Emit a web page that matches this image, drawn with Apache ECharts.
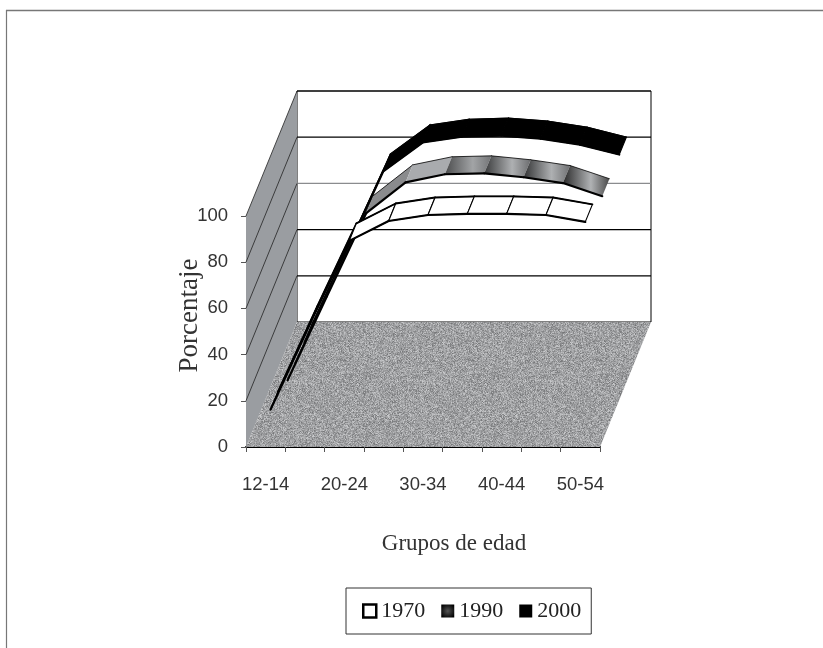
<!DOCTYPE html>
<html><head><meta charset="utf-8">
<style>html,body{margin:0;padding:0;background:#fff}#c{width:823px;height:648px}</style>
<script src="https://cdn.jsdelivr.net/npm/echarts@6/dist/echarts.min.js"></script>
</head><body><div id="c"></div>
<script>
const categories = ['12-14','15-19','20-24','25-29','30-34','35-39','40-44','45-49','50-54'];
const yTicks = [0,20,40,60,80,100];
const v1970 = [11,48,84,92.6,95.2,95.7,95.7,95.2,92.2];
const v1990 = [5.6,42,78,91.3,94.8,95.2,93.5,91,85.3];
const v2000 = [4,41,78,90.5,93,93.5,92.2,89.6,85.3];
const seriesNames = ['1970','1990','2000'];

const DX = 51, DY = -125, SLOTS = 3, F0 = 0.29, F1 = 0.71;
const WALL = '#9a9da1';

function shade(c1,c2,c3){return {type:'linear',x:0,y:0,x2:1,y2:0,colorStops:[{offset:0,color:c1},{offset:.6,color:c2},{offset:1,color:c3}]};}
const fill1990 = [ '#777','#777','#8a8b8d','#a9abae',
  shade('#4c4d4e','#a2a4a6','#737476'),shade('#3a3b3c','#aeb0b2','#6c6d6f'),
  shade('#333435','#aeb0b2','#707173'),shade('#2a2a2a','#b0b2b4','#4a4a4a')];

const pat = document.createElement('canvas'); pat.width = 128; pat.height = 128;
(function(){const g = pat.getContext('2d'); let s = 2463534242;
  const next = () => { s ^= s << 13; s >>>= 0; s ^= s >>> 17; s ^= s << 5; s >>>= 0; return s / 4294967296; };
  for (let j=0;j<128;j++) for (let i=0;i<128;i++){
    const n = (next()+next())/2, c = Math.round(112 + n*95);
    g.fillStyle = 'rgb('+c+','+(c+1)+','+(c+3)+')'; g.fillRect(i,j,1,1);
  }
})();

function ribbon(slot, fills, mode){
  return function(params, api){
    const k = api.value(0);
    if (k >= categories.length-1) return null;
    const a = api.coord([k, api.value(1)]), b = api.coord([k+1, api.value(2)]);
    const off = f => [DX*(slot+f)/SLOTS, DY*(slot+f)/SLOTS];
    const o0 = off(F0), o1 = off(F1);
    const p = [[a[0]+o0[0],a[1]+o0[1]],[b[0]+o0[0],b[1]+o0[1]],[b[0]+o1[0],b[1]+o1[1]],[a[0]+o1[0],a[1]+o1[1]]];
    const fill = fills[k];
    const ch = [{type:'polygon',shape:{points:p},style:{fill:fill,stroke:mode==='cells'||mode==='solid'?'#000':null,lineWidth:1.1}},
      {type:'line',shape:{x1:p[0][0],y1:p[0][1],x2:p[1][0],y2:p[1][1]},style:{stroke:'#000',lineWidth:2.2,lineCap:'round'}},
      {type:'line',shape:{x1:p[3][0],y1:p[3][1],x2:p[2][0],y2:p[2][1]},style:{stroke:'#000',lineWidth:mode==='cells'?1.8:0.8,lineCap:'round'}}];
    return {type:'group',children:ch};
  };
}
function rows(v){return v.map((x,i)=>[i,x,i<v.length-1?v[i+1]:x]);}

function scene(params, api){
  const half = api.size([1,0])[0]/2;
  const L = api.coord([0,0])[0]-half, R = api.coord([categories.length-1,0])[0]+half;
  const y = t => api.coord([0,t])[1];
  const ch = [];
  ch.push({type:'polygon',shape:{points:[[L+DX,y(0)+DY],[R+DX,y(0)+DY],[R+DX,y(100)+DY],[L+DX,y(100)+DY]]},style:{fill:'#fff',stroke:'#000',lineWidth:1}});
  ch.push({type:'polygon',shape:{points:[[L,y(0)],[L+DX,y(0)+DY],[L+DX,y(100)+DY],[L,y(100)]]},style:{fill:WALL,stroke:null}});
  ch.push({type:'polygon',shape:{points:[[L,y(0)],[R,y(0)],[R+DX,y(0)+DY],[L+DX,y(0)+DY]]},style:{fill:{image:pat,repeat:'repeat'},stroke:null}});
  yTicks.forEach(t=>{
    if (t===0) return;
    const c = t===60 ? '#8a8c8e' : '#000';
    ch.push({type:'line',shape:{x1:L+DX,y1:y(t)+DY,x2:R+DX,y2:y(t)+DY},style:{stroke:c,lineWidth:1.2}});
    ch.push({type:'line',shape:{x1:L,y1:y(t),x2:L+DX,y2:y(t)+DY},style:{stroke:'#222',lineWidth:.8}});
  });
  return {type:'group',children:ch};
}

const chart = echarts.init(document.getElementById('c'));
const customBase = {type:'custom',coordinateSystem:'cartesian2d',clip:false,encode:{x:0,y:1},silent:true,animation:false};
chart.setOption({
  animation:false, backgroundColor:'#fff',
  grid:{left:246,top:216,width:354,height:231,containLabel:false},
  xAxis:{type:'category',data:categories,boundaryGap:true,
    axisLine:{lineStyle:{color:'#000',width:2}},
    axisTick:{show:true,interval:0,alignWithLabel:false,length:5,lineStyle:{color:'#555',width:1}},
    axisLabel:{interval:1,fontFamily:'"Liberation Sans"',fontSize:18.5,color:'#333',margin:28},
    name:'Grupos de edad',nameLocation:'middle',nameGap:85,
    nameTextStyle:{fontFamily:'"Liberation Serif"',fontSize:23,color:'#333',padding:[0,0,0,62]}},
  yAxis:{type:'value',min:0,max:100,interval:20,splitLine:{show:false},
    axisLine:{show:true,lineStyle:{color:'#666',width:1}},
    axisTick:{show:true,length:5,lineStyle:{color:'#555',width:1}},
    axisLabel:{fontFamily:'"Liberation Sans"',fontSize:18.5,color:'#333',margin:18},
    name:'Porcentaje',nameLocation:'middle',nameGap:43,nameRotate:90,nameMoveOverlap:false,
    nameTextStyle:{fontFamily:'"Liberation Serif"',fontSize:27,color:'#333',padding:[0,0,0,32]}},
  legend:{left:346,top:588,orient:'horizontal',padding:[12,10,12,16],borderColor:'#333',borderWidth:1,
    itemWidth:13,itemHeight:13,itemGap:16,
    textStyle:{fontFamily:'"Liberation Serif"',fontSize:22,color:'#222',padding:[0,0,0,0]},
    data:[
     {name:'1970',icon:'rect',itemStyle:{color:'#fff',borderColor:'#000',borderWidth:2.5}},
     {name:'1990',icon:'rect',itemStyle:{color:{type:'radial',x:.5,y:.5,r:.6,colorStops:[{offset:0,color:'#555'},{offset:1,color:'#000'}]},borderWidth:0}},
     {name:'2000',icon:'rect',itemStyle:{color:'#000',borderWidth:0}}]},
  graphic:[
    {type:'line',z:-10,silent:true,shape:{x1:6,y1:10.5,x2:823,y2:10.5},style:{stroke:'#777',lineWidth:1.4}},
    {type:'line',z:-10,silent:true,shape:{x1:6.5,y1:10,x2:6.5,y2:648},style:{stroke:'#777',lineWidth:1.2}}],
  series:[
    Object.assign({},customBase,{name:'_scene',data:[[0,0]],renderItem:scene,z:1}),
    Object.assign({},customBase,{name:'2000',data:rows(v2000),renderItem:ribbon(2,v2000.map(()=>'#000'),'solid'),z:2,itemStyle:{color:'#000'}}),
    Object.assign({},customBase,{name:'1990',data:rows(v1990),renderItem:ribbon(1,fill1990,'shade'),z:3,itemStyle:{color:'#555'}}),
    Object.assign({},customBase,{name:'1970',data:rows(v1970),renderItem:ribbon(0,v1970.map(()=>'#fff'),'cells'),z:4,itemStyle:{color:'#fff'}})
  ]
});
</script></body></html>
